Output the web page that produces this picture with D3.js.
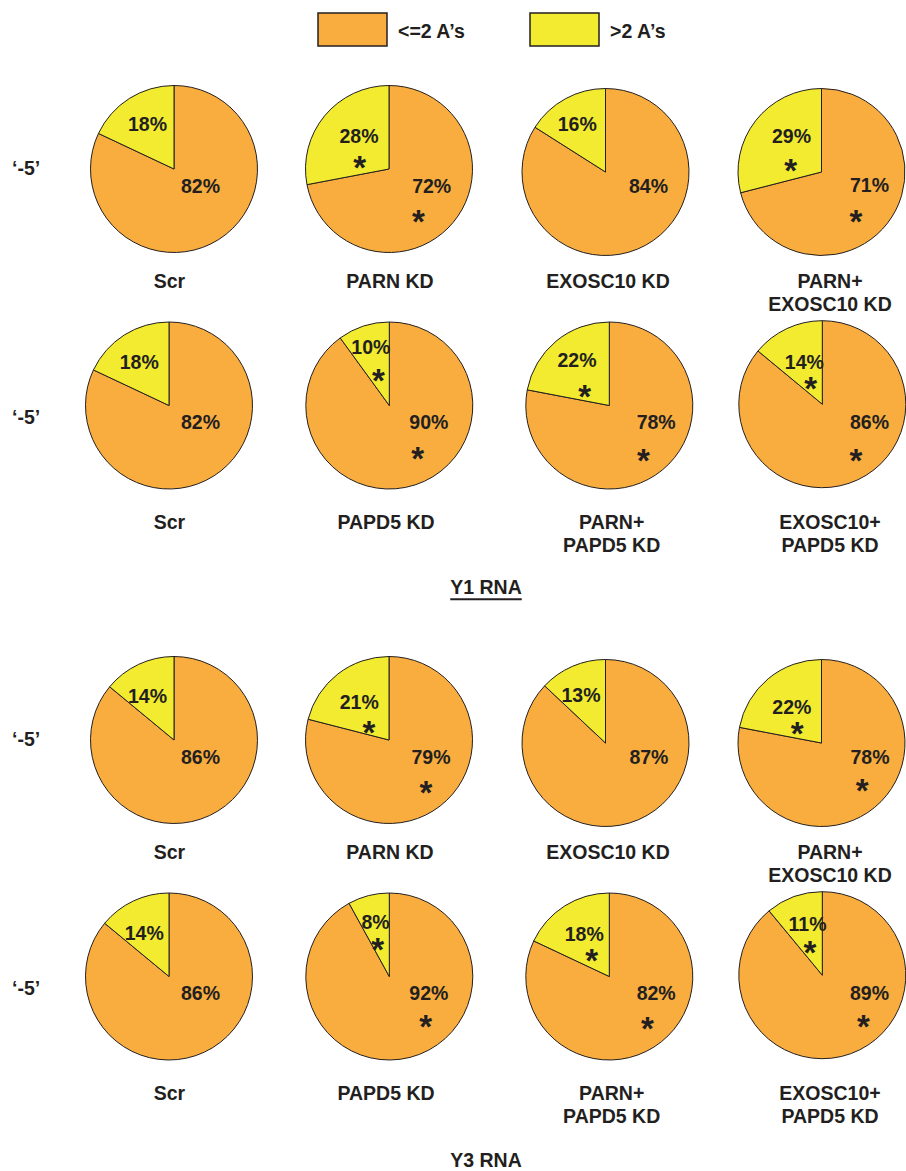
<!DOCTYPE html>
<html>
<head>
<meta charset="utf-8">
<script src="https://cdn.jsdelivr.net/npm/d3@7"></script>
<style>
  html, body { margin: 0; padding: 0; background: #ffffff; }
  svg { display: block; }
  text { font-family: "Liberation Sans", Arial, Helvetica, sans-serif; font-weight: bold; fill: #231f20; }
</style>
</head>
<body>
<svg id="chart" width="906" height="1171"></svg>
<script>
// ---- data ----
const seriesNames = ["<=2 A\u2019s", ">2 A\u2019s"];
const panelTitles = ["Y1 RNA", "Y3 RNA"];
const rowLabel = "\u2018-5\u2019";

const topConditions = ["Scr", "PARN KD", "EXOSC10 KD", "PARN+\nEXOSC10 KD"];
const bottomConditions = ["Scr", "PAPD5 KD", "PARN+\nPAPD5 KD", "EXOSC10+\nPAPD5 KD"];

// Y1 RNA
const y1TopShort = [82, 72, 84, 71];
const y1TopLong = [18, 28, 16, 29];
const y1TopSignificant = [false, true, false, true];
const y1BottomShort = [82, 90, 78, 86];
const y1BottomLong = [18, 10, 22, 14];
const y1BottomSignificant = [false, true, true, true];

// Y3 RNA
const y3TopShort = [86, 79, 87, 78];
const y3TopLong = [14, 21, 13, 22];
const y3TopSignificant = [false, true, false, true];
const y3BottomShort = [86, 92, 82, 89];
const y3BottomLong = [14, 8, 18, 11];
const y3BottomSignificant = [false, true, true, true];

// ---- layout ----
const colors = ["#f9ad3f", "#f2eb2f"];
const radius = 83.5;
const panelOffset = [0, 571];
const rowCenterY = [169, 405.5];
const topColX = [174, 389, 605.5, 821.5];
const topColDy = [0, 0, 3, 3];
const bottomColX = [169, 389.3, 609.3, 822.3];
const bottomColDy = [0, 0, 0, -1.3];
const topLabelX = [169.5, 390, 608, 830];
const bottomLabelX = [169.5, 386, 611.7, 830];
const captionBaseline = [287.5, 529];
const lineStep = 23.4;
const rowLabelDy = [5.8, 18.4];

// per pie: [shortX, shortY, longX, longY, shortStarX, shortStarY, longStarX, longStarY]
const labelOffsets = [
  // Y1 top
  [[26.5, 23.7, -26.5, -38], [42.7, 23.7, -30, -26.3, 29.3, 45, -29.3, -9],
   [43, 20.7, -28.3, -41], [48, 19.7, -30, -29.3, 34.5, 42, -30.8, -9.3]],
  // Y1 bottom
  [[31.5, 23.6, -29.8, -36.4], [39.5, 23.6, -18.5, -51.7, 28.4, 45, -11, -32.4],
   [46.9, 23.6, -32.3, -38.4, 34, 47, -24.6, -16.7], [47.2, 25, -18, -35.3, 33.7, 48.4, -11.6, -23.6]],
  // Y3 top
  [[26.5, 24.3, -26.5, -37.4], [42, 24.3, -29.8, -31.4, 37, 45.3, -20, -14.7],
   [43.4, 20.7, -24.5, -41], [48.5, 20.7, -29.7, -29.3, 40.7, 40, -24.3, -16.6]],
  // Y3 bottom
  [[31.5, 23.7, -24.8, -37], [39.5, 23.7, -13.8, -47.7, 36.4, 42.3, -11.6, -34.3],
   [46.9, 23.7, -25.1, -35.3, 38, 44.7, -17.6, -23.7], [47.2, 24.9, -14.8, -44.1, 41, 43.5, -12.3, -29.8]]
];

const rows = [
  { panel: 0, sub: 0, names: topConditions, short: y1TopShort, long: y1TopLong, sig: y1TopSignificant },
  { panel: 0, sub: 1, names: bottomConditions, short: y1BottomShort, long: y1BottomLong, sig: y1BottomSignificant },
  { panel: 1, sub: 0, names: topConditions, short: y3TopShort, long: y3TopLong, sig: y3TopSignificant },
  { panel: 1, sub: 1, names: bottomConditions, short: y3BottomShort, long: y3BottomLong, sig: y3BottomSignificant }
];

const svg = d3.select("#chart");
const color = d3.scaleOrdinal().domain(seriesNames).range(colors);
const pie = d3.pie().sort(null).value(d => d.value);
const arc = d3.arc().innerRadius(0).outerRadius(radius);
const FONT = 19.5;

// ---- legend ----
const legendX = [318, 530];
seriesNames.forEach((name, i) => {
  const g = svg.append("g").attr("transform", `translate(${legendX[i]},13)`);
  g.append("rect").attr("width", 69).attr("height", 33)
    .attr("fill", color(name)).attr("stroke", "#231f20").attr("stroke-width", 1.5);
  g.append("text").attr("x", 80).attr("y", 25).attr("font-size", FONT).text(name);
});

// ---- pies ----
rows.forEach((row, r) => {
  const baseY = panelOffset[row.panel] + rowCenterY[row.sub];
  const colX = row.sub === 0 ? topColX : bottomColX;
  const colDy = row.sub === 0 ? topColDy : bottomColDy;
  const labX = row.sub === 0 ? topLabelX : bottomLabelX;

  // row label
  svg.append("text").attr("x", 12).attr("y", baseY + rowLabelDy[row.sub])
    .attr("font-size", FONT).text(rowLabel);

  row.names.forEach((name, c) => {
    const cx = colX[c], cy = baseY + colDy[c];
    const slices = pie([
      { key: seriesNames[0], value: row.short[c] },
      { key: seriesNames[1], value: row.long[c] }
    ]);
    const g = svg.append("g").attr("transform", `translate(${cx},${cy})`);
    g.selectAll("path").data(slices).join("path")
      .attr("d", arc)
      .attr("fill", d => color(d.data.key))
      .attr("stroke", "#231f20")
      .attr("stroke-width", 1)
      .attr("stroke-linejoin", "round");

    const off = labelOffsets[r][c];
    g.append("text").attr("x", off[0]).attr("y", off[1]).attr("text-anchor", "middle")
      .attr("font-size", FONT).text(row.short[c] + "%");
    g.append("text").attr("x", off[2]).attr("y", off[3]).attr("text-anchor", "middle")
      .attr("font-size", FONT).text(row.long[c] + "%");
    if (row.sig[c]) {
      [[off[4], off[5]], [off[6], off[7]]].forEach(([sx, sy]) => {
        g.append("text").attr("x", sx).attr("y", sy + 19).attr("text-anchor", "middle")
          .attr("font-size", 33).text("*");
      });
    }

    // condition caption
    const lines = name.split("\n");
    const cap = svg.append("text").attr("text-anchor", "middle").attr("font-size", FONT);
    lines.forEach((ln, k) => {
      cap.append("tspan").attr("x", labX[c])
        .attr("y", panelOffset[row.panel] + captionBaseline[row.sub] + k * lineStep)
        .text(ln);
    });
  });
});

// ---- panel titles ----
panelTitles.forEach((t, i) => {
  const y = 594.3 + i * 573;
  const txt = svg.append("text").attr("x", 486).attr("y", y)
    .attr("text-anchor", "middle").attr("font-size", FONT).text(t);
  const bb = txt.node().getBBox();
  svg.append("line").attr("x1", bb.x).attr("x2", bb.x + bb.width)
    .attr("y1", y + 5).attr("y2", y + 5)
    .attr("stroke", "#231f20").attr("stroke-width", 2);
});
</script>
</body>
</html>
